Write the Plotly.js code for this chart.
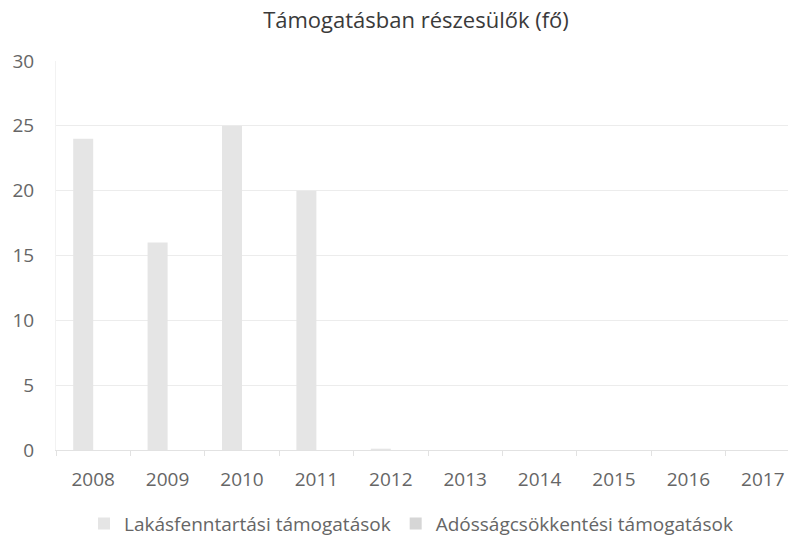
<!DOCTYPE html>
<html><head><meta charset="utf-8">
<script src="https://cdn.plot.ly/plotly-3.0.1.min.js"></script>
<style>html,body{margin:0;padding:0;background:#fff;overflow:hidden;}</style>
</head><body>
<div id="chart" style="width:802px;height:545px;"></div>
<script>
const years = ['2008','2009','2010','2011','2012','2013','2014','2015','2016','2017'];
const lakasfenntartasi = [24, 16, 25, 20, 0.1, 0, 0, 0, 0, 0];
const adossagcsokkentesi = [0, 0, 0, 0, 0, 0, 0, 0, 0, 0];
const seriesNames = ['Lakásfenntartási támogatások', 'Adósságcsökkentési támogatások'];
const chartTitle = 'Támogatásban részesülők (fő)';

const FONT = 'Open Sans, Liberation Sans, sans-serif';
const TXT = '#666666';
const data = [
  {type:'bar', x: years, y: lakasfenntartasi, name: seriesNames[0], marker:{color:'#e5e5e5'}},
  {type:'bar', x: years, y: adossagcsokkentesi, name: seriesNames[1], marker:{color:'#d6d6d6'}}
];
const layout = {
  width: 802, height: 545,
  margin: {l: 56, r: 2, t: 61, b: 88},
  paper_bgcolor:'#fff', plot_bgcolor:'#fff',
  title: {text: chartTitle, xref:'container', x: 416/802, xanchor:'center', yref:'container', y: 1 - 20/545, yanchor:'middle', font:{family: FONT, size: 22, color:'#3a3a3a'}},
  barmode: 'group', bargap: 0.462, bargroupgap: 0,
  font: {family: FONT, color: TXT, size: 19},
  xaxis: {type:'category', showgrid:false, showline:true, linecolor:'#e2e2e2', linewidth:1,
          ticks:'outside', tickson:'boundaries', ticklen:5, tickcolor:'#e2e2e2',
          tickfont:{family: FONT, size:19, color: TXT}, ticklabelstandoff: 12},
  yaxis: {range:[0,30], dtick:5, showgrid:true, gridcolor:'#ececec', zeroline:false,
          showline:true, linecolor:'#f2f2f2', ticks:'',
          tickfont:{family: FONT, size:19, color: TXT}, ticklabelstandoff: 17},
  legend: {orientation:'h', x: (84-56)/744, xanchor:'left', y: -(532-457)/396, yanchor:'middle',
           font:{family: FONT, size:19, color: TXT}, itemwidth: 30}
};
Plotly.newPlot('chart', data, layout, {displayModeBar:false, staticPlot:true});
</script>
</body></html>
